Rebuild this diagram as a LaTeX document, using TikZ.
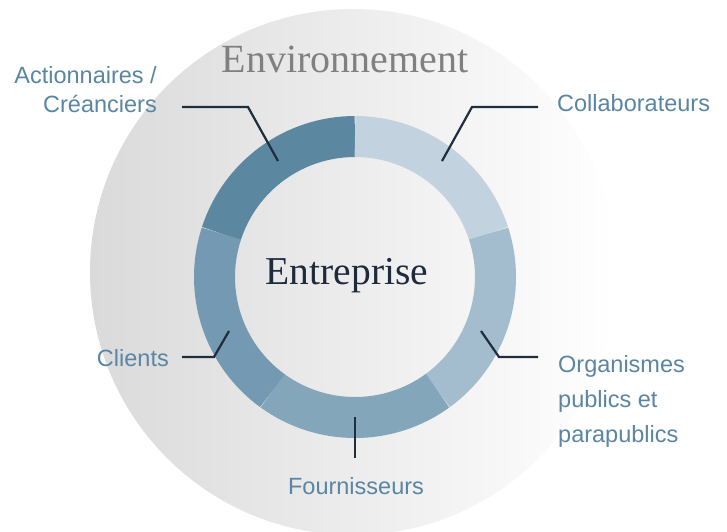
\documentclass[tikz,border=0pt]{standalone}
\usepackage{fontspec}
\setmainfont{Liberation Serif}
\newfontfamily\labelfont{Liberation Sans}
\usetikzlibrary{calc}
\definecolor{segA}{HTML}{5B87A0}
\definecolor{segB}{HTML}{C2D3DF}
\definecolor{segC}{HTML}{A3BCCE}
\definecolor{segD}{HTML}{84A6BB}
\definecolor{segE}{HTML}{7499B2}
\definecolor{lblC}{HTML}{5A86A3}
\definecolor{lineC}{HTML}{1F2D3D}
\definecolor{envL}{HTML}{DADADA}
\definecolor{envT}{HTML}{808080}
\definecolor{entT}{HTML}{1E2B3C}
\begin{document}
\begin{tikzpicture}[x=1pt,y=-1pt,
  seg/.style={line width=41pt},
  conn/.style={line width=2.2pt, draw=lineC},
  lbl/.style={inner sep=0pt, text=lblC, font=\labelfont\fontsize{23.5}{29}\selectfont},
  lblwide/.style={lbl, font=\labelfont\fontsize{23.5}{35}\selectfont}]
\useasboundingbox (0,0) rectangle (727,531);
\clip (0,0) rectangle (727,531);
\fill[white] (0,0) rectangle (727,531);
\coordinate (C) at (355,277);
\shade[left color=envL, right color=white] (353,272) circle[radius=263];
% ring
\draw[seg, segA] (C) ++(-90:140.5) arc[start angle=-90, end angle=-162, radius=140.5];
\draw[seg, segB] (C) ++(-18:140.5) arc[start angle=-18, end angle=-90, radius=140.5];
\draw[seg, segC] (C) ++(54:140.5) arc[start angle=54, end angle=-18, radius=140.5];
\draw[seg, segD] (C) ++(126:140.5) arc[start angle=126, end angle=54, radius=140.5];
\draw[seg, segE] (C) ++(-162:140.5) arc[start angle=-162, end angle=-234, radius=140.5];
% titles
\node[inner sep=0pt, anchor=base, text=envT, font=\fontsize{40}{44}\selectfont] (env) at (345,72) {Environnement};
\node[inner sep=0pt, anchor=base, text=entT, font=\fontsize{39.5}{44}\selectfont] (ent) at (347,284) {Entreprise};
% labels
\node[lbl, anchor=base east, align=right] (act) at (157,112) {Actionnaires /\\Créanciers};
\node[lbl, anchor=base west] (col) at (557,111) {Collaborateurs};
\node[lbl, anchor=base east] (cli) at (169,366) {Clients};
\node[lblwide, anchor=base west, align=left] (org) at (558,442) {Organismes\\publics et\\parapublics};
\node[lbl, anchor=base] (fou) at (356,494) {Fournisseurs};
% connectors
\coordinate (actS) at (182,107); \coordinate (actK) at (248,107); \coordinate (actE) at (278,161);
\coordinate (colS) at (538,107); \coordinate (colK) at (472,107); \coordinate (colE) at (442,161);
\coordinate (cliS) at (182,357); \coordinate (cliK) at (214,357); \coordinate (cliE) at (229,331);
\coordinate (orgS) at (538,357); \coordinate (orgK) at (499,357); \coordinate (orgE) at (481,331);
\coordinate (fouS) at (355,458); \coordinate (fouE) at (355,417);
\draw[conn] (actS) -- (actK) -- (actE);
\draw[conn] (colS) -- (colK) -- (colE);
\draw[conn] (cliS) -- (cliK) -- (cliE);
\draw[conn] (orgS) -- (orgK) -- (orgE);
\draw[conn] (fouS) -- (fouE);
\end{tikzpicture}
\end{document}
